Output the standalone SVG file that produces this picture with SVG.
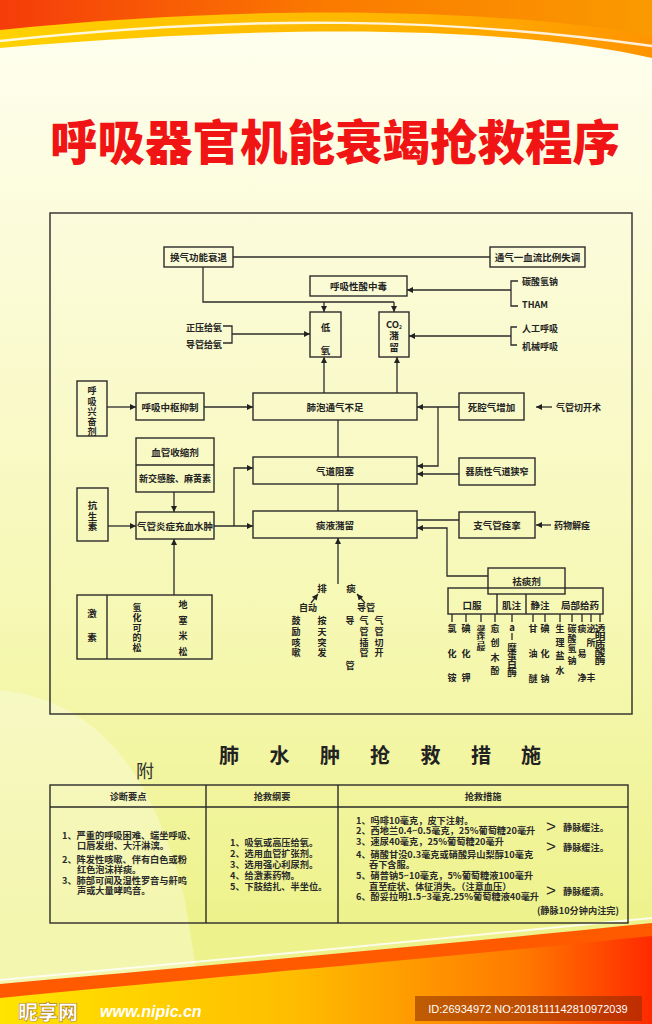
<svg xmlns="http://www.w3.org/2000/svg" width="652" height="1024" viewBox="0 0 652 1024">
<defs>
<linearGradient id="bg" x1="0" y1="0" x2="0" y2="1">
<stop offset="0" stop-color="#fffff2"/>
<stop offset="0.25" stop-color="#fbfbd8"/>
<stop offset="0.6" stop-color="#f6f8b4"/>
<stop offset="0.9" stop-color="#eef28c"/>
</linearGradient>
<linearGradient id="topA" x1="0" y1="0" x2="1" y2="0">
<stop offset="0" stop-color="#ffd200"/>
<stop offset="0.6" stop-color="#ffb400"/>
<stop offset="1" stop-color="#ff9400"/>
</linearGradient>
<linearGradient id="topB" x1="0" y1="0" x2="1" y2="0">
<stop offset="0" stop-color="#f53c0a"/>
<stop offset="0.5" stop-color="#fb7a00"/>
<stop offset="1" stop-color="#fa9a00"/>
</linearGradient>
<linearGradient id="botA" x1="0" y1="0" x2="1" y2="0">
<stop offset="0" stop-color="#ffe400"/>
<stop offset="0.45" stop-color="#ffbd00"/>
<stop offset="0.8" stop-color="#ff7a00"/>
<stop offset="1" stop-color="#ff2a00"/>
</linearGradient>
<marker id="ah" viewBox="0 0 10 10" refX="10" refY="5" markerWidth="7" markerHeight="6" orient="auto" markerUnits="userSpaceOnUse">
<path d="M0,0 L10,5 L0,10 z" fill="#222"/>
</marker>
<style>
.t{font-family:'Noto Sans CJK SC','Noto Sans CJK JP',sans-serif;font-size:9.5px;font-weight:700;fill:#222;text-anchor:middle;dominant-baseline:central}
.s{font-size:9px}
.l{text-anchor:start}
.e{text-anchor:end}
.tb{font-family:'Noto Sans CJK SC','Noto Sans CJK JP',sans-serif;font-size:9.2px;font-weight:700;fill:#2a2a2a;dominant-baseline:central}
.b{fill:none;stroke:#2b2b2b;stroke-width:1.4}
.c{fill:none;stroke:#2b2b2b;stroke-width:1.3}
.a{marker-end:url(#ah)}
</style>
</defs>

<rect x="0" y="0" width="652" height="1024" fill="url(#bg)"/>
<path d="M0,690 C90,700 150,760 185,900 L205,1024 H0 Z" fill="#ffffff" opacity="0.3"/>

<g id="top-swoosh">
<path d="M0,0 H652 V58 C520,28 300,22 0,48 Z" fill="url(#topA)"/>
<path d="M0,41 C250,14 450,18 652,46" fill="none" stroke="#ffffff" stroke-width="2.5" opacity="0.85"/>
<path d="M0,0 H652 V36 C500,8 250,4 0,30 Z" fill="url(#topB)"/>
</g>

<g id="bottom-swoosh">
<path d="M0,996 C200,976 450,955 652,934 V1024 H0 Z" fill="url(#botA)"/>
<path d="M0,984 C200,966 450,944 652,923 V936 C450,957 200,978 0,998 Z" fill="#ff5a00"/>
<path d="M0,980 C200,961 450,939 652,918" fill="none" stroke="#ffffff" stroke-width="2" opacity="0.8"/>
</g>

<text id="title" x="335" y="139" font-family="'Noto Sans CJK SC','Noto Sans CJK JP',sans-serif" font-size="47.5" font-weight="900" fill="#f01414" text-anchor="middle" dominant-baseline="central">呼吸器官机能衰竭抢救程序</text>

<rect id="frame" x="50" y="213" width="582" height="501" class="b"/>

<g id="connectors">
<path class="c" d="M233,257 H490"/>
<path class="c" d="M203,267 V302 H394"/>
<path class="c a" d="M324,302 V312"/>
<path class="c a" d="M394,302 V312"/>
<path class="c" d="M518,281 H511 V306 H518"/>
<path class="c a" d="M511,290 H407"/>
<path class="c" d="M223,326 H232 V343 H223"/>
<path class="c a" d="M232,334 H310"/>
<path class="c" d="M517,327 H511 V345 H517"/>
<path class="c a" d="M511,336 H409"/>
<path class="c a" d="M324,393 V357"/>
<path class="c a" d="M397,393 V357"/>
<path class="c a" d="M107,407 H136"/>
<path class="c a" d="M204,407 H253"/>
<path class="c a" d="M459,407 H417"/>
<path class="c a" d="M552,407 H536"/>
<path class="c a" d="M438,407 V466 H417"/>
<path class="c" d="M338,420 V457"/>
<path class="c a" d="M459,474 H417"/>
<path class="c" d="M338,484 V511"/>
<path class="c a" d="M174,492 V512"/>
<path class="c a" d="M108,526 H136"/>
<path class="c a" d="M214,526 H253"/>
<path class="c a" d="M234,526 V468 H253"/>
<path class="c" d="M459,520 H417"/>
<path class="c a" d="M488,576 H447 V528 H417"/>
<path class="c a" d="M551,525 H536"/>
<path class="c a" d="M174,595 V539"/>
<path class="c a" d="M338,584 V538"/>
<path class="c a" d="M311,603 L318,594"/>
<path class="c a" d="M365,603 L357,594"/>
<path class="c" d="M452,614 V622 M466,614 V622 M481,614 V622 M495,614 V622 M512,614 V622 M533,614 V622 M545,614 V622 M560,614 V622 M572,614 V622 M582,614 V622 M591,614 V622 M600,614 V622"/>
</g>

<g id="n-huanqi"><rect class="b" x="164" y="247" width="69" height="20"/><text class="t" x="198.5" y="257">换气功能衰退</text></g>
<g id="n-tongqi"><rect class="b" x="490" y="247" width="95" height="20"/><text class="t" x="537.5" y="257">通气一血流比例失调</text></g>
<g id="n-suanzhongdu"><rect class="b" x="310" y="276" width="97" height="20"/><text class="t" x="358.5" y="286">呼吸性酸中毒</text></g>
<g id="l-tansuan"><text class="t s l" x="522" y="281">碳酸氢钠</text><text class="t s l" x="522" y="304" font-family="'Liberation Sans',sans-serif">THAM</text></g>
<g id="n-diyang"><rect class="b" x="310" y="312" width="31" height="45"/><text class="t" x="325.5" y="327">低</text><text class="t" x="325.5" y="350">氧</text></g>
<g id="n-co2"><rect class="b" x="379" y="312" width="30" height="45"/><text class="t" x="394" y="324" font-size="8.5" font-family="'Liberation Sans',sans-serif">CO<tspan font-size="5" dy="2">2</tspan></text><text class="t" x="394" y="335">潴</text><text class="t" x="394" y="347">留</text></g>
<g id="l-geiyang"><text class="t s e" x="222" y="327">正压给氧</text><text class="t s e" x="222" y="344">导管给氧</text></g>
<g id="l-huxi"><text class="t s l" x="522" y="328">人工呼吸</text><text class="t s l" x="522" y="346">机械呼吸</text></g>

<g id="n-xingfenji"><rect class="b" x="77" y="381" width="30" height="55"/><text class="t s" x="92"><tspan x="92" y="390">呼</tspan><tspan x="92" y="400.5">吸</tspan><tspan x="92" y="411">兴</tspan><tspan x="92" y="421">奋</tspan><tspan x="92" y="431">剂</tspan></text></g>
<g id="n-zhongshu"><rect class="b" x="136" y="393" width="68" height="27"/><text class="t" x="170" y="406.5">呼吸中枢抑制</text></g>
<g id="n-feipao"><rect class="b" x="253" y="393" width="164" height="27"/><text class="t" x="335" y="406.5">肺泡通气不足</text></g>
<g id="n-siqiang"><rect class="b" x="459" y="393" width="65" height="27"/><text class="t" x="491.5" y="406.5">死腔气增加</text></g>
<text id="l-qieka" class="t s l" x="556" y="407">气管切开术</text>

<g id="n-xueguan"><rect class="b" x="136" y="438" width="78" height="54"/><path class="b" d="M136,465 H214"/><text class="t" x="175" y="451.5">血管收缩剂</text><text class="t s" x="175" y="478.5">新交感胺、麻黄素</text></g>
<g id="n-qidao"><rect class="b" x="253" y="457" width="164" height="27"/><text class="t" x="335" y="470.5">气道阻塞</text></g>
<g id="n-qizhi"><rect class="b" x="459" y="458" width="76" height="27"/><text class="t s" x="497" y="471.5">器质性气道狭窄</text></g>
<g id="n-kangsheng"><rect class="b" x="77" y="488" width="31" height="53"/><text class="t"><tspan x="92.5" y="505">抗</tspan><tspan x="92.5" y="516">生</tspan><tspan x="92.5" y="526">素</tspan></text></g>
<g id="n-yanzheng"><rect class="b" x="136" y="512" width="78" height="27"/><text class="t" x="175" y="525.5" font-size="9.1">气管炎症充血水肿</text></g>
<g id="n-tanye"><rect class="b" x="253" y="511" width="164" height="27"/><text class="t" x="335" y="524.5">痰液潴留</text></g>
<g id="n-jingluan"><rect class="b" x="459" y="512" width="76" height="26"/><text class="t" x="497" y="525">支气管痉挛</text></g>
<text id="l-jiejing" class="t s l" x="554" y="525">药物解痉</text>

<g id="n-jisu"><rect class="b" x="77" y="595" width="135" height="64"/><path class="b" d="M107,595 V659"/>
<text class="t"><tspan x="92" y="613">激</tspan><tspan x="92" y="637">素</tspan></text>
<text class="t s"><tspan x="137" y="607">氢</tspan><tspan x="137" y="617">化</tspan><tspan x="137" y="627">可</tspan><tspan x="137" y="637">的</tspan><tspan x="137" y="647">松</tspan></text>
<text class="t s"><tspan x="183" y="604">地</tspan><tspan x="183" y="620">塞</tspan><tspan x="183" y="635">米</tspan><tspan x="183" y="651">松</tspan></text>
</g>

<g id="n-paitan">
<text class="t"><tspan x="322" y="588">排</tspan><tspan x="351" y="588">痰</tspan></text>
<text class="t s"><tspan x="308" y="607">自动</tspan><tspan x="366" y="607">导管</tspan></text>
<text class="t s"><tspan x="296" y="620">鼓</tspan><tspan x="296" y="631">励</tspan><tspan x="296" y="641.5">咳</tspan><tspan x="296" y="652">嗽</tspan></text>
<text class="t s"><tspan x="322" y="620">按</tspan><tspan x="322" y="631">天</tspan><tspan x="322" y="641.5">突</tspan><tspan x="322" y="652">发</tspan></text>
<text class="t s"><tspan x="350" y="620">导</tspan><tspan x="350" y="665">管</tspan></text>
<text class="t s"><tspan x="364" y="620">气</tspan><tspan x="364" y="631">管</tspan><tspan x="364" y="641.5">插</tspan><tspan x="364" y="652">管</tspan></text>
<text class="t s"><tspan x="379" y="620">气</tspan><tspan x="379" y="631">管</tspan><tspan x="379" y="641.5">切</tspan><tspan x="379" y="652">开</tspan></text>
</g>

<g id="n-qutanji">
<rect class="b" x="448" y="588" width="155" height="26"/>
<rect class="b" x="488" y="568" width="77" height="26" fill="#f8f9c4"/>
<path class="b" d="M497,594 V614 M526,594 V614"/>
<text class="t" x="526.5" y="581">祛痰剂</text>
<text class="t" font-size="10"><tspan x="472" y="605">口服</tspan><tspan x="511.5" y="605">肌注</tspan><tspan x="540" y="605">静注</tspan><tspan x="580" y="605">局部给药</tspan></text>
<text class="t s"><tspan x="452" y="628">氯</tspan><tspan x="452" y="653">化</tspan><tspan x="452" y="677">铵</tspan></text>
<text class="t s"><tspan x="466" y="628">碘</tspan><tspan x="466" y="653">化</tspan><tspan x="466" y="677">钾</tspan></text>
<g transform="translate(481,627) scale(1,0.55)"><text class="t s"><tspan x="0" y="0">溴</tspan><tspan x="0" y="9.5">苯</tspan><tspan x="0" y="19">环</tspan><tspan x="0" y="28.5">己</tspan><tspan x="0" y="38">胺</tspan></text></g>
<text class="t s"><tspan x="495" y="628">愈</tspan><tspan x="495" y="642">创</tspan><tspan x="495" y="657">木</tspan><tspan x="495" y="670">酚</tspan></text>
<text class="t" x="512" y="627" font-size="12" font-family="'Liberation Sans',sans-serif" font-weight="400">a</text>
<path class="c" d="M512,633 V640"/>
<text class="t" font-size="7.6"><tspan x="512" y="647">糜</tspan><tspan x="512" y="655.3">蛋</tspan><tspan x="512" y="663.6">白</tspan><tspan x="512" y="672">酶</tspan></text>
<text class="t s"><tspan x="533" y="628">甘</tspan><tspan x="533" y="653">油</tspan><tspan x="533" y="678">醚</tspan></text>
<text class="t s"><tspan x="545" y="628">碘</tspan><tspan x="545" y="653">化</tspan><tspan x="545" y="678">钠</tspan></text>
<text class="t s"><tspan x="560" y="628">生</tspan><tspan x="560" y="642">理</tspan><tspan x="560" y="655">盐</tspan><tspan x="560" y="670">水</tspan></text>
<text class="t s"><tspan x="572" y="628">碳</tspan><tspan x="572" y="638">酸</tspan><tspan x="572" y="648">氢</tspan><tspan x="572" y="660">钠</tspan></text>
<text class="t s"><tspan x="582" y="628">痰</tspan><tspan x="582" y="653">易</tspan><tspan x="582" y="677">净</tspan></text>
<text class="t s"><tspan x="591" y="628">泌</tspan><tspan x="591" y="642">所</tspan><tspan x="591" y="677">丰</tspan></text>
<g transform="translate(600,627) scale(1.12,1)"><text class="t" font-size="7.6"><tspan x="0" y="0">透</tspan><tspan x="0" y="8.1">明</tspan><tspan x="0" y="16.2">质</tspan><tspan x="0" y="24.3">酸</tspan><tspan x="0" y="32.4">酶</tspan></text></g>
</g>

<g id="appendix">
<text x="145" y="770" font-family="'Noto Sans CJK SC',sans-serif" font-size="18" fill="#333" text-anchor="middle" dominant-baseline="central">附</text>
<text font-family="'Noto Sans CJK SC',sans-serif" font-size="20" font-weight="700" fill="#222" text-anchor="middle" dominant-baseline="central"><tspan x="229" y="754">肺</tspan><tspan x="279.5" y="754">水</tspan><tspan x="330" y="754">肿</tspan><tspan x="380" y="754">抢</tspan><tspan x="430.5" y="754">救</tspan><tspan x="481" y="754">措</tspan><tspan x="531" y="754">施</tspan></text>
</g>

<g id="table">
<rect class="b" x="50" y="785" width="578" height="138"/>
<path class="b" d="M50,807 H628 M206,785 V923 M338,785 V923"/>
<text class="tb" x="128" y="796" font-size="12" text-anchor="middle">诊断要点</text>
<text class="tb" x="272" y="796" font-size="12" text-anchor="middle">抢救纲要</text>
<text class="tb" x="483" y="796" font-size="12" text-anchor="middle">抢救措施</text>
<text class="tb">
<tspan x="62" y="835">1、严重的呼吸困难、端坐呼吸、</tspan>
<tspan x="77" y="845">口唇发绀、大汗淋漓。</tspan>
<tspan x="62" y="859">2、阵发性咳嗽、伴有白色或粉</tspan>
<tspan x="77" y="869">红色泡沫样痰。</tspan>
<tspan x="62" y="880">3、肺部可闻及湿性罗音与鼾鸣</tspan>
<tspan x="77" y="890">声或大量哮鸣音。</tspan>
</text>
<text class="tb" font-size="8.8">
<tspan x="230" y="842">1、吸氧或高压给氧。</tspan>
<tspan x="230" y="853">2、选用血管扩张剂。</tspan>
<tspan x="230" y="864">3、选用强心利尿剂。</tspan>
<tspan x="230" y="875">4、给激素药物。</tspan>
<tspan x="230" y="886">5、下肢结扎、半坐位。</tspan>
</text>
<text class="tb">
<tspan x="356" y="820">1、吗啡10毫克，皮下注射。</tspan>
<tspan x="356" y="830">2、西地兰0.4~0.5毫克，25%葡萄糖20毫升</tspan>
<tspan x="356" y="841">3、速尿40毫克，25%葡萄糖20毫升</tspan>
<tspan x="356" y="854">4、硝酸甘没0.3毫克或硝酸异山梨醇10毫克</tspan>
<tspan x="369" y="864">吞下含服。</tspan>
<tspan x="356" y="875">5、硝普钠5~10毫克，5%葡萄糖液100毫升</tspan>
<tspan x="369" y="886">直至症状、体征消失。（注意血压）</tspan>
<tspan x="356" y="896">6、酚妥拉明1.5~3毫克.25%葡萄糖液40毫升</tspan>
</text>
<text class="tb" x="619" y="910" text-anchor="end">(静脉10分钟内注完)</text>
<text font-family="'Liberation Sans',sans-serif" font-size="17" fill="#222" text-anchor="middle" dominant-baseline="central"><tspan x="551" y="826">&gt;</tspan><tspan x="551" y="846">&gt;</tspan><tspan x="551" y="890">&gt;</tspan></text>
<text class="tb"><tspan x="563" y="827">静脉缓注。</tspan><tspan x="563" y="847">静脉缓注。</tspan><tspan x="563" y="891">静脉缓滴。</tspan></text>
</g>

<g id="watermark">
<text x="18" y="1011" font-family="'Noto Sans CJK SC',sans-serif" font-size="20" font-weight="900" fill="#ffffff" stroke="#b08020" stroke-width="0.6" dominant-baseline="central">昵享网</text>
<text x="100" y="1011" font-family="'Liberation Sans',sans-serif" font-size="16" font-weight="700" font-style="italic" fill="#ffffff" dominant-baseline="central">www.nipic.cn</text>
<rect x="415" y="996" width="227" height="25" fill="#8a2a00" opacity="0.55"/>
<text x="528" y="1008.5" font-family="'Liberation Sans',sans-serif" font-size="11" fill="#ffffff" text-anchor="middle" dominant-baseline="central">ID:26934972 NO:20181111428109720​39</text>
</g>
</svg>
